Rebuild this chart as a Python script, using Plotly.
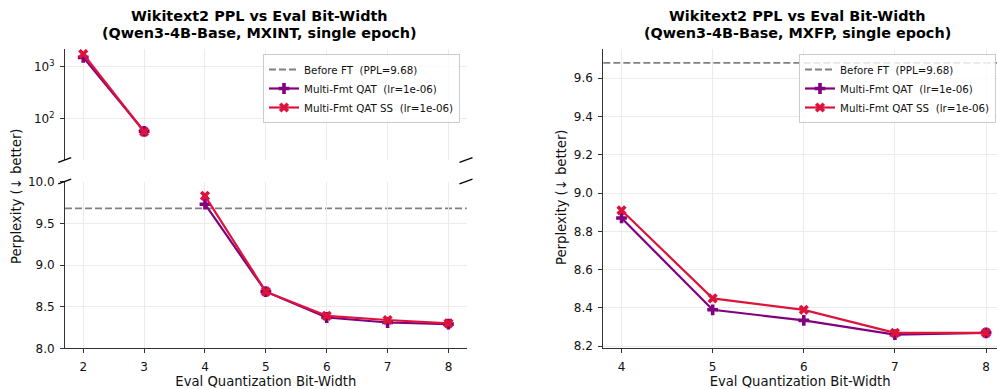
import plotly.graph_objects as go

# ---------------- data ----------------
bits_int = [2, 3, 4, 5, 6, 7, 8]
qat_int = [1540, 56, 9.73, 8.68, 8.37, 8.31, 8.29]
ss_int = [1790, 55, 9.83, 8.68, 8.39, 8.34, 8.30]

bits_fp = [4, 5, 6, 7, 8]
qat_fp = [8.87, 8.39, 8.335, 8.26, 8.27]
ss_fp = [8.91, 8.45, 8.39, 8.27, 8.27]

before_ft = 9.68
break_threshold = 20  # values above this go on the upper (log) panel

title_line1 = "Wikitext2 PPL vs Eval Bit-Width"
title_int = "(Qwen3-4B-Base, MXINT, single epoch)"
title_fp = "(Qwen3-4B-Base, MXFP, single epoch)"
xlabel = "Eval Quantization Bit-Width"
ylabel = "Perplexity (↓ better)"
name_before = "Before FT\u00a0\u00a0(PPL=9.68)"
name_qat = "Multi-Fmt QAT\u00a0\u00a0(lr=1e-06)"
name_ss = "Multi-Fmt QAT SS\u00a0\u00a0(lr=1e-06)"

# ---------------- style ----------------
W, H = 997, 389
FONT = "DejaVu Sans"
PURPLE = "#800080"
CRIMSON = "#DC143C"
GRID = "#ebebeb"
SPINE = "#333333"


def px(x):
    return x / W


def py(y):
    return 1 - y / H


top_mask = [v > break_threshold for v in qat_int]
bits_top = [b for b, m in zip(bits_int, top_mask) if m]
qat_top = [v for v, m in zip(qat_int, top_mask) if m]
ss_top = [v for v, m in zip(ss_int, top_mask) if m]
bits_bot = [b for b, m in zip(bits_int, top_mask) if not m]
qat_bot = [v for v, m in zip(qat_int, top_mask) if not m]
ss_bot = [v for v, m in zip(ss_int, top_mask) if not m]

fig = go.Figure()


def add_series(x, y, xa, ya, color, symbol, name, legend, show, rank):
    fig.add_trace(go.Scatter(
        x=x, y=y, xaxis=xa, yaxis=ya, mode="lines+markers",
        line=dict(color=color, width=2.2),
        marker=dict(symbol=symbol, size=9, color=color),
        name=name, legend=legend, showlegend=show, legendrank=rank,
    ))


# left: top log panel
add_series(bits_top, qat_top, "x", "y", PURPLE, "cross", name_qat, "legend", False, 2)
add_series(bits_top, ss_top, "x", "y", CRIMSON, "x", name_ss, "legend", False, 3)
# left: bottom linear panel
add_series(bits_bot, qat_bot, "x2", "y2", PURPLE, "cross", name_qat, "legend", True, 2)
add_series(bits_bot, ss_bot, "x2", "y2", CRIMSON, "x", name_ss, "legend", True, 3)
# right panel
add_series(bits_fp, qat_fp, "x3", "y3", PURPLE, "cross", name_qat, "legend2", True, 2)
add_series(bits_fp, ss_fp, "x3", "y3", CRIMSON, "x", name_ss, "legend2", True, 3)

# before-FT reference lines
for xr, yr, lg in [("x2 domain", "y2", "legend"), ("x3 domain", "y3", "legend2")]:
    fig.add_shape(type="line", xref=xr, x0=0, x1=1, yref=yr, y0=before_ft, y1=before_ft,
                  line=dict(color="#808080", width=1.8, dash="7px,3px"),
                  showlegend=True, name=name_before, legend=lg, legendrank=1, layer="below")

axis_common = dict(
    showgrid=True, gridcolor=GRID, gridwidth=0.8, zeroline=False,
    tickfont=dict(family=FONT, size=12, color="#111"),
    ticks="outside", ticklen=4, tickwidth=1, tickcolor=SPINE,
    showline=True, linecolor=SPINE, linewidth=1, mirror=False,
    ticklabelstandoff=3, automargin=False,
)

left_x0, left_x1 = px(65), px(466.7)
right_x0, right_x1 = px(603.3), 1.0

legend_common = dict(
    xanchor="right", yanchor="top",
    font=dict(family=FONT, size=10.3, color="#111"),
    bgcolor="rgba(255,255,255,0.8)", bordercolor="#cccccc", borderwidth=1,
    tracegroupgap=0, itemwidth=30,
)

fig.update_layout(
    width=W, height=H, margin=dict(l=0, r=0, t=0, b=0, autoexpand=False),
    paper_bgcolor="white", plot_bgcolor="white",
    font=dict(family=FONT, color="#111"),
    xaxis=dict(axis_common, domain=[left_x0, left_x1], anchor="y", range=[1.7, 8.3],
               dtick=1, showticklabels=False, ticks="", showline=False),
    yaxis=dict(axis_common, domain=[py(160), py(49)], anchor="x", type="log",
               range=[1.19, 3.35], tickvals=[100, 1000],
               ticktext=["10<sup>2</sup>", "10<sup>3</sup>"]),
    xaxis2=dict(axis_common, domain=[left_x0, left_x1], anchor="y2", range=[1.7, 8.3],
                dtick=1, title=dict(text=xlabel, font=dict(family=FONT, size=13.2), standoff=5)),
    yaxis2=dict(axis_common, domain=[py(348.3), py(181.7)], anchor="x2", range=[8.0, 10.0],
                dtick=0.5, tickformat=".1f"),
    xaxis3=dict(axis_common, domain=[right_x0, right_x1], anchor="y3", range=[3.8, 8.12],
                dtick=1, title=dict(text=xlabel, font=dict(family=FONT, size=13.2), standoff=5)),
    yaxis3=dict(axis_common, domain=[py(348.3), py(49.3)], anchor="x3", range=[8.189, 9.751],
                dtick=0.2, tickformat=".1f"),
    legend=dict(legend_common, x=px(460), y=py(54)),
    legend2=dict(legend_common, x=px(996), y=py(54)),
)

# titles
for cx, sub in [(259, title_int), (797, title_fp)]:
    fig.add_annotation(text="<b>" + title_line1 + "</b>", x=px(cx), y=py(16), xref="paper", yref="paper",
                       showarrow=False, xanchor="center", yanchor="middle",
                       font=dict(family=FONT, size=14.4, color="#000"))
    fig.add_annotation(text="<b>" + sub + "</b>", x=px(cx), y=py(32.5), xref="paper", yref="paper",
                       showarrow=False, xanchor="center", yanchor="middle",
                       font=dict(family=FONT, size=14.4, color="#000"))

# y labels
for cx, cy in [(16, 197), (561, 198)]:
    fig.add_annotation(text=ylabel, x=px(cx), y=py(cy), xref="paper", yref="paper",
                       showarrow=False, textangle=-90, xanchor="center", yanchor="middle",
                       font=dict(family=FONT, size=13.2, color="#111"))

# broken-axis marks
for bx in [64.7, 466.0]:
    for by in [160.0, 181.5]:
        fig.add_shape(type="line", xref="paper", yref="paper",
                      x0=px(bx - 6.5), y0=py(by + 2.4), x1=px(bx + 6.5), y1=py(by - 2.4),
                      line=dict(color="#000", width=1.3))

fig.write_html("out.html")
